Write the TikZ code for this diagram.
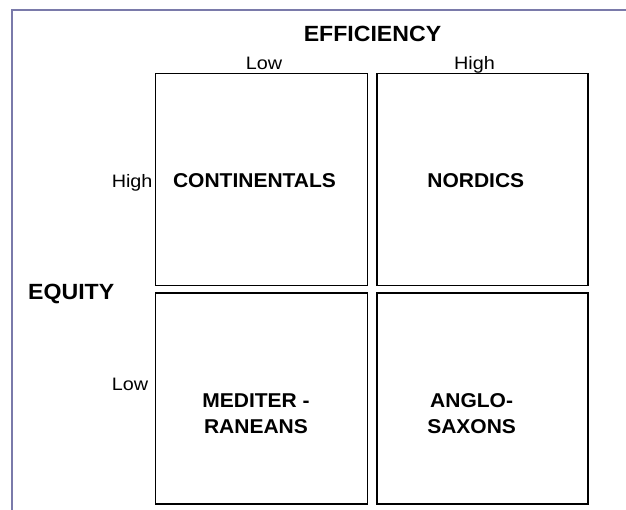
\documentclass[tikz,border=0pt]{standalone}
\usepackage{fontspec}
\setmainfont{Liberation Sans}[FakeStretch=1.05]
\newfontfamily\labelfont{Liberation Sans}[FakeStretch=1.1]
\definecolor{framecol}{RGB}{122,122,170}
\begin{document}
\begin{tikzpicture}[x=1pt,y=-1pt,
  cell/.style={draw=black,line width=1.5pt},
  axistitle/.style={font=\fontsize{22}{26}\selectfont\bfseries,inner sep=0pt},
  levellabel/.style={font=\labelfont\fontsize{18}{22}\selectfont,inner sep=0pt},
  group/.style={font=\fontsize{20}{26}\selectfont\bfseries,inner sep=0pt,align=center}]
  \useasboundingbox (0,0) rectangle (626,510);
  % outer frame (top and left edges only)
  \draw[framecol,line width=2pt] (626,10) -- (12,10) -- (12,510);
  % the four quadrants
  \draw[cell] (155.5,73.5) rectangle (367.5,285.5);
  \draw[cell] (377,73.5) rectangle (588,285.5);
  \draw[cell] (155.5,293) rectangle (367.5,504);
  \draw[cell] (377,293) rectangle (588,504);
  % axis titles
  \node[axistitle,anchor=base] (eff) at (372.5,41.7) {EFFICIENCY};
  \node[axistitle,anchor=base west] (equ) at (28,299.3) {EQUITY};
  % level labels
  \node[levellabel,anchor=base] (efflow) at (264,70) {Low};
  \node[levellabel,anchor=base] (effhigh) at (474.5,70) {High};
  \node[levellabel,anchor=base east] (equhigh) at (152.7,187.3) {High};
  \node[levellabel,anchor=base east] (equlow) at (148.3,390) {Low};
  % group names
  \node[group,anchor=base] (cont) at (254.5,187.7) {CONTINENTALS};
  \node[group,anchor=base] (nord) at (475.8,187.7) {NORDICS};
  \node[group] (med) at (256,414) {MEDITER -\\RANEANS};
  \node[group] (anglo) at (471.6,414) {ANGLO-\\SAXONS};
\end{tikzpicture}
\end{document}
